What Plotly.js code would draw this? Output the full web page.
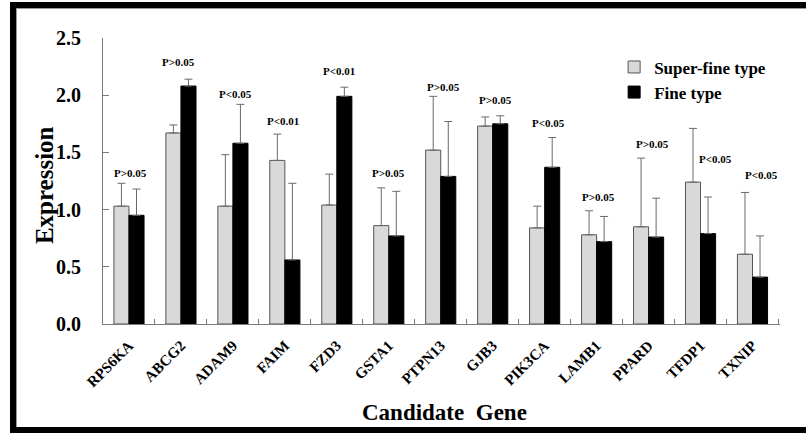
<!DOCTYPE html>
<html>
<head>
<meta charset="utf-8">
<script src="https://cdn.plot.ly/plotly-3.0.1.min.js"></script>
<style>
  html, body { margin:0; padding:0; background:#fff; overflow:hidden; }
  #wrap { position:relative; width:806px; height:433px; overflow:hidden; }
  #chart { position:absolute; left:0; top:0; width:806px; height:433px; }
  #frame { position:absolute; left:10px; top:2px; width:900px; height:431px; box-sizing:border-box;
           border:6px solid #000; border-right:none;
           box-shadow: inset 1px 1px 0 0 #999; pointer-events:none; }
</style>
</head>
<body>
<div id="wrap">
  <div id="chart"></div>
  <div id="frame"></div>
</div>
<script>
// ---- data ----
const genes = ["RPS6KA","ABCG2","ADAM9","FAIM","FZD3","GSTA1","PTPN13","GJB3","PIK3CA","LAMB1","PPARD","TFDP1","TXNIP"];
const superFine = [1.03, 1.67, 1.03, 1.43, 1.04, 0.86, 1.52, 1.73, 0.84, 0.78, 0.85, 1.24, 0.61];
const superFineErr = [0.20, 0.07, 0.45, 0.23, 0.27, 0.33, 0.47, 0.08, 0.19, 0.21, 0.60, 0.47, 0.54];
const fine = [0.95, 2.08, 1.58, 0.56, 1.99, 0.77, 1.29, 1.75, 1.37, 0.72, 0.76, 0.79, 0.41];
const fineErr = [0.23, 0.06, 0.34, 0.67, 0.08, 0.39, 0.48, 0.07, 0.26, 0.22, 0.34, 0.32, 0.36];
const pLabels = ["P>0.05","P>0.05","P<0.05","P<0.01","P<0.01","P>0.05","P>0.05","P>0.05","P<0.05","P>0.05","P>0.05","P<0.05","P<0.05"];

// ---- styling / layout ----
const serif = "'Liberation Serif', 'Times New Roman', serif";
const zeros = genes.map(() => 0);
// pixel offsets of each p-label relative to the taller error-bar top
const labelYShift = [10,17,10,13,16,15,9,16,15,14,14,-31,17];
const labelXShift = [2,-2,3,-2,2,0,3,3,4,2,4,15,9];

const traces = [
  {
    type: "bar", name: "Super-fine type", x: genes, y: superFine,
    marker: { color: "#d9d9d9", line: { color: "#555", width: 1 } },
    error_y: { type: "data", symmetric: false, array: superFineErr, arrayminus: zeros,
               color: "#6a6a6a", thickness: 1, width: 4 }
  },
  {
    type: "bar", name: "Fine type", x: genes, y: fine,
    marker: { color: "#000", line: { color: "#000", width: 1 } },
    error_y: { type: "data", symmetric: false, array: fineErr, arrayminus: zeros,
               color: "#6a6a6a", thickness: 1, width: 4 }
  }
];

const annotations = genes.map((g, i) => ({
  x: g, xref: "x", yref: "y",
  y: Math.max(superFine[i] + superFineErr[i], fine[i] + fineErr[i]),
  text: "<b>" + pLabels[i].replace("<", "&lt;").replace(">", "&gt;") + "</b>",
  showarrow: false, yanchor: "middle", xanchor: "center",
  yshift: labelYShift[i], xshift: labelXShift[i],
  font: { family: serif, size: 11, color: "#000" }
}));
annotations.push({
  text: "<b>Candidate  Gene</b>", xref: "paper", yref: "paper", x: 0.505, y: -0.308,
  xanchor: "center", yanchor: "middle", showarrow: false,
  font: { family: serif, size: 23, color: "#000" }
});
annotations.push({
  text: "<b>Expression</b>", xref: "paper", yref: "paper", x: -0.087, y: 0.486,
  xanchor: "center", yanchor: "middle", showarrow: false, textangle: -90,
  font: { family: serif, size: 25, color: "#000" }
});

const layout = {
  width: 806, height: 433,
  margin: { l: 103, r: 26, t: 38, b: 109 },
  paper_bgcolor: "#fff", plot_bgcolor: "#fff",
  barmode: "group", bargap: 0.42, bargroupgap: 0,
  showlegend: true,
  legend: { x: 0.755, y: 0.96, xanchor: "left", yanchor: "top",
            font: { family: serif, size: 17, color: "#000", weight: "bold" },
            bgcolor: "rgba(0,0,0,0)", itemwidth: 30, tracegroupgap: 0 },
  xaxis: {
    type: "category", showline: true, linecolor: "#7a7a7a", linewidth: 1,
    ticks: "inside", tickson: "boundaries", ticklen: 5, tickcolor: "#7a7a7a",
    tickangle: -45, showgrid: false, zeroline: false,
    tickfont: { family: serif, size: 15, color: "#000", weight: "bold" },
    ticklabelstandoff: 6
  },
  yaxis: {
    range: [0, 2.5], dtick: 0.5, tickformat: ".1f",
    showline: true, linecolor: "#7a7a7a", linewidth: 1,
    ticks: "inside", ticklen: 6, tickcolor: "#7a7a7a",
    showgrid: false, zeroline: false,
    tickfont: { family: serif, size: 20, color: "#000", weight: "bold" },
    ticklabelstandoff: 17
  },
  annotations: annotations
};

Plotly.newPlot("chart", traces, layout, { staticPlot: true, displayModeBar: false });
</script>
</body>
</html>
